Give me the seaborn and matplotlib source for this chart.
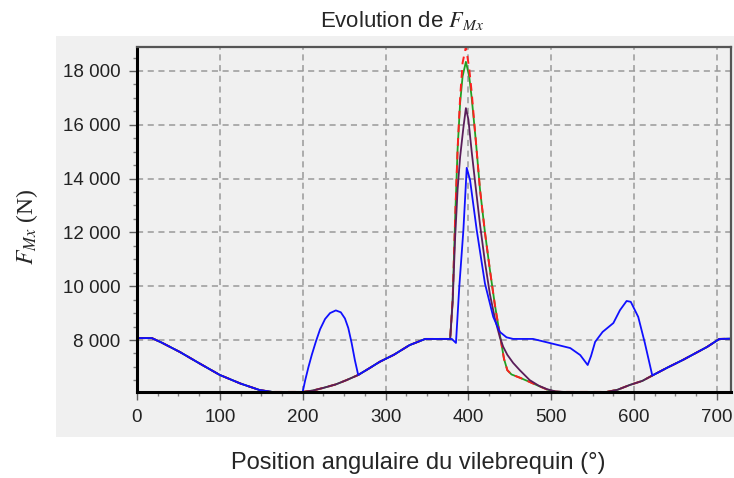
import numpy as np
import pandas as pd
import seaborn as sns
import matplotlib.pyplot as plt
from matplotlib.patches import Rectangle
from matplotlib.ticker import MultipleLocator, FuncFormatter

# angle (deg) / force (N)
blue_x = [0, 18, 30, 52, 76, 100, 125, 148, 163, 200, 203, 207, 211, 216, 221, 227, 233, 240, 246,
          251, 255, 259, 263, 267, 281, 293, 310, 329, 348, 380, 385, 389, 394, 398, 402, 410, 420,
          430, 438, 446, 454, 478, 498, 523, 535, 544, 548, 553, 562, 575, 583, 591, 596, 605, 613,
          622, 640, 659, 688, 703, 720]
blue_y = [8070, 8070, 7900, 7550, 7120, 6700, 6380, 6140, 6070, 6070, 6500, 7000, 7450, 7950, 8400,
          8780, 9000, 9100, 9030, 8800, 8450, 7900, 7250, 6700, 6960, 7190, 7450, 7810, 8040, 8040,
          7890, 9970, 12100, 14400, 13950, 12100, 10100, 8860, 8300, 8100, 8040, 8040, 7890, 7700,
          7440, 7070, 7400, 7930, 8300, 8630, 9110, 9450, 9420, 8860, 7890, 6680, 6970, 7260, 7740,
          8040, 8050]

red_x = [0, 18, 30, 52, 76, 100, 125, 148, 163, 200, 212, 225, 240, 253, 267, 281, 293, 310, 329,
         348, 378, 381, 384, 387, 390, 393, 397, 401, 404, 409, 414, 420, 426, 432, 438, 443, 447,
         452, 462, 474, 485, 495, 505, 512, 567, 580, 595, 610, 622, 640, 659, 688, 703, 720]
red_y = [8070, 8070, 7900, 7550, 7120, 6700, 6380, 6140, 6070, 6070, 6120, 6220, 6350, 6510, 6700,
         6960, 7190, 7450, 7810, 8040, 8040, 9500, 12500, 15100, 17000, 18300, 18900, 18100, 17200,
         15400, 13600, 12000, 10600, 9300, 8200, 7300, 6880, 6720, 6600, 6440, 6290, 6160, 6080,
         6070, 6070, 6150, 6330, 6480, 6680, 6970, 7260, 7740, 8040, 8050]

green_x = red_x
green_y = [8070, 8070, 7900, 7550, 7120, 6700, 6380, 6140, 6070, 6070, 6120, 6220, 6350, 6510, 6700,
           6960, 7190, 7450, 7810, 8040, 8040, 9500, 12500, 15100, 16800, 17800, 18340, 17800, 17000,
           15400, 13600, 12000, 10600, 9300, 8200, 7300, 6880, 6720, 6600, 6440, 6290, 6160, 6080,
           6070, 6070, 6150, 6330, 6480, 6680, 6970, 7260, 7740, 8040, 8050]

purple_x = [0, 18, 30, 52, 76, 100, 125, 148, 163, 200, 212, 225, 240, 253, 267, 281, 293, 310, 329,
            348, 378, 381, 384, 387, 390, 394, 397, 400, 404, 408, 414, 420, 426, 432, 438, 442, 447,
            454, 462, 474, 485, 495, 505, 515, 567, 580, 595, 610, 622, 640, 659, 688, 703, 720]
purple_y = [8070, 8070, 7900, 7550, 7120, 6700, 6380, 6140, 6070, 6070, 6120, 6220, 6350, 6510, 6700,
            6960, 7190, 7450, 7810, 8040, 8040, 9400, 11800, 13600, 14800, 15900, 16620, 16200, 15000,
            13900, 12300, 10900, 9700, 8800, 8100, 7750, 7450, 7150, 6880, 6510, 6300, 6170, 6090,
            6070, 6070, 6150, 6330, 6480, 6680, 6970, 7260, 7740, 8040, 8050]

sns.set_style("ticks")
plt.rcParams['font.family'] = ['Liberation Sans', 'DejaVu Sans']
plt.rcParams['mathtext.fontset'] = 'stix'

W, H = 734, 478
fig = plt.figure(figsize=(W / 100, H / 100), dpi=100)
fig.patches.append(Rectangle((56 / W, 1 - 437 / H), 678 / W, 401 / H, transform=fig.transFigure,
                             facecolor='#f0f0f0', edgecolor='none', zorder=-5))
ax = fig.add_axes([137 / W, 1 - 392 / H, 594 / W, 345 / H])
ax.set_zorder(2)
ax.set_facecolor('#f0f0f0')

sns.lineplot(x=green_x, y=green_y, ax=ax, color='#22a022', lw=1.3, sort=False, estimator=None)
sns.lineplot(x=red_x, y=red_y, ax=ax, color='#ff2020', lw=1.4, sort=False, estimator=None,
             linestyle=(0, (4, 3)))
sns.lineplot(x=purple_x, y=purple_y, ax=ax, color='#5a1e5a', lw=1.3, sort=False, estimator=None)
sns.lineplot(x=blue_x, y=blue_y, ax=ax, color='#1010ff', lw=1.3, sort=False, estimator=None)

ax.set_xlim(0, 717)
ax.set_ylim(6067, 18892)
ax.xaxis.set_major_locator(MultipleLocator(100))
ax.xaxis.set_minor_locator(MultipleLocator(25))
ax.yaxis.set_major_locator(MultipleLocator(2000))
ax.yaxis.set_minor_locator(MultipleLocator(500))
ax.yaxis.set_major_formatter(FuncFormatter(lambda v, p: f"{int(v):,}".replace(",", " ")))

ax.grid(True, which='major', color='#999999', linestyle=(0, (4, 3)), linewidth=1.1)
ax.set_axisbelow(True)
ax.tick_params(which='major', direction='out', length=6, width=1, color='#606060',
               labelsize=13.5, labelcolor='#222222', pad=6)
ax.tick_params(which='minor', direction='out', length=3, width=1, color='#808080')

for side in ['left', 'bottom']:
    ax.spines[side].set_color('black')
    ax.spines[side].set_linewidth(2.2)
for side in ['top', 'right']:
    ax.spines[side].set_color('#555555')
    ax.spines[side].set_linewidth(1.6)

ax.set_xlabel('')
ax.set_ylabel('')
fig.text(402 / W, 1 - 27 / H, r'Evolution de $\mathregular{}$' + r'$F_{Mx}$', ha='center',
         va='baseline', fontsize=16)
fig.text(418 / W, 1 - 469 / H, 'Position angulaire du vilebrequin (°)', ha='center',
         va='baseline', fontsize=17)
fig.text(27 / W, 1 - 227 / H, '$F_{Mx}$ (N)', rotation=90, ha='center', va='center',
         fontsize=17, family='Liberation Serif')

fig.savefig('out.png', dpi=100)
